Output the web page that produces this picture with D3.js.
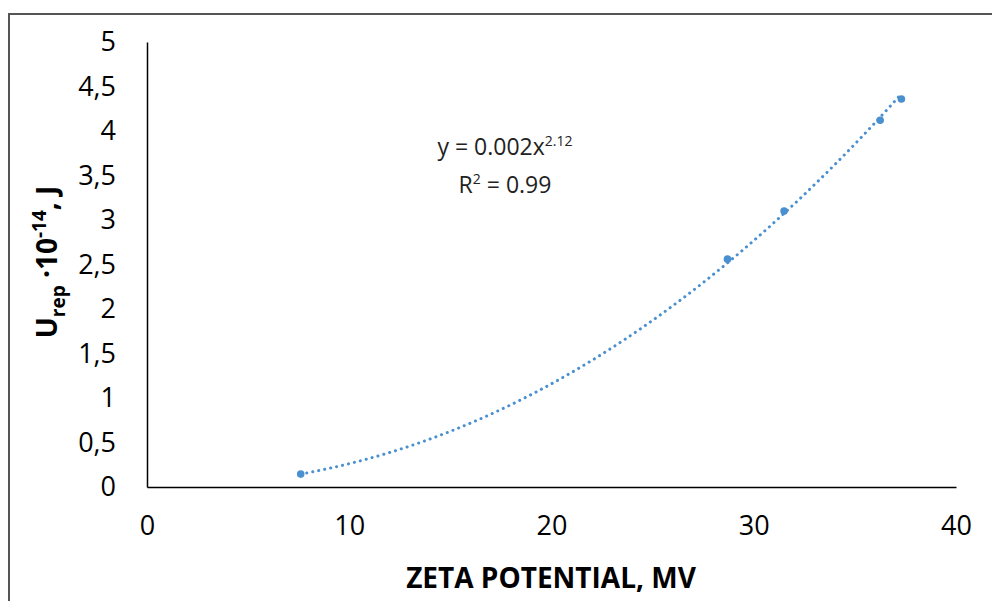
<!DOCTYPE html>
<html>
<head>
<meta charset="utf-8">
<script src="https://cdn.jsdelivr.net/npm/d3@7"></script>
<style>
  html, body { margin: 0; padding: 0; background: #fff; }
  svg { display: block; font-family: "Open Sans", sans-serif; }
</style>
</head>
<body>
<script>
const width = 992, height = 601;

// data
const zeta = [7.6, 28.7, 31.5, 36.25, 37.3];
const urep = [0.145, 2.56, 3.10, 4.12, 4.36];
const xTicks = [0, 10, 20, 30, 40];
const yTicks = [0, 0.5, 1, 1.5, 2, 2.5, 3, 3.5, 4, 4.5, 5];

const svg = d3.select("body")
  .append("svg")
  .attr("width", width)
  .attr("height", height);

// outer frame (only left and top are in view)
svg.append("rect")
  .attr("x", 9).attr("y", 14)
  .attr("width", 1000).attr("height", 620)
  .attr("fill", "none")
  .attr("stroke", "#555")
  .attr("stroke-width", 2);

const x = d3.scaleLinear().domain([0, 40]).range([147, 956]);
const y = d3.scaleLinear().domain([0, 5]).range([487, 42]);

// axes
const xAxis = svg.append("g")
  .attr("transform", "translate(0," + y(0) + ")")
  .call(d3.axisBottom(x).tickValues(xTicks).tickSize(0).tickPadding(29));
xAxis.select(".domain").attr("stroke", "#000").attr("stroke-width", 1.5);
xAxis.selectAll("text")
  .attr("font-size", "27px")
  .attr("fill", "#000")
  .attr("font-family", "Open Sans");

const yAxis = svg.append("g")
  .attr("transform", "translate(" + x(0) + ",0)")
  .call(d3.axisLeft(y).tickValues(yTicks).tickSize(0).tickPadding(31)
    .tickFormat(d => String(d).replace(".", ",")));
yAxis.select(".domain").attr("stroke", "#000").attr("stroke-width", 1.5);
yAxis.selectAll("text")
  .attr("font-size", "27px")
  .attr("fill", "#000")
  .attr("font-family", "Open Sans");

// power trendline fitted on log-log
const lx = zeta.map(Math.log), ly = urep.map(Math.log);
const mx = d3.mean(lx), my = d3.mean(ly);
const b = d3.sum(lx, (v, i) => (v - mx) * (ly[i] - my)) / d3.sum(lx, v => (v - mx) * (v - mx));
const a = Math.exp(my - b * mx);
const trend = d3.range(0, 101).map(i => {
  const xv = zeta[0] + (zeta[zeta.length - 1] - zeta[0]) * i / 100;
  return [xv, a * Math.pow(xv, b)];
});

svg.append("path")
  .datum(trend)
  .attr("fill", "none")
  .attr("stroke", "#4a90d0")
  .attr("stroke-width", 3)
  .attr("stroke-linecap", "round")
  .attr("stroke-dasharray", "0.1 6")
  .attr("d", d3.line().x(d => x(d[0])).y(d => y(d[1])));

svg.selectAll("circle.pt")
  .data(zeta)
  .enter().append("circle")
  .attr("class", "pt")
  .attr("cx", d => x(d))
  .attr("cy", (d, i) => y(urep[i]))
  .attr("r", 3.8)
  .attr("fill", "#4a90d0");

// equation
const eq = svg.append("text")
  .attr("x", 505).attr("y", 155)
  .attr("text-anchor", "middle")
  .attr("font-size", "23px")
  .attr("fill", "#222");
eq.append("tspan").text("y = 0.002x");
eq.append("tspan").attr("font-size", "14px").attr("dy", -9).text("2.12");

const r2 = svg.append("text")
  .attr("x", 505).attr("y", 193)
  .attr("text-anchor", "middle")
  .attr("font-size", "23px")
  .attr("fill", "#222");
r2.append("tspan").text("R");
r2.append("tspan").attr("font-size", "14px").attr("dy", -9).text("2");
r2.append("tspan").attr("dy", 9).text(" = 0.99");

// axis titles
svg.append("text")
  .attr("x", 551).attr("y", 588)
  .attr("text-anchor", "middle")
  .attr("font-size", "28px")
  .attr("font-weight", "bold")
  .attr("fill", "#000")
  .text("ZETA POTENTIAL, MV");

const yt = svg.append("text")
  .attr("transform", "translate(57,262) rotate(-90)")
  .attr("text-anchor", "middle")
  .attr("font-size", "28px")
  .attr("font-weight", "bold")
  .attr("fill", "#000");
yt.append("tspan").text("U");
yt.append("tspan").attr("font-size", "19px").attr("dy", 8).text("rep");
yt.append("tspan").attr("dy", -8).text(" ·10");
yt.append("tspan").attr("font-size", "19px").attr("dy", -11).text("-14");
yt.append("tspan").attr("dy", 11).text(", J");
</script>
</body>
</html>
